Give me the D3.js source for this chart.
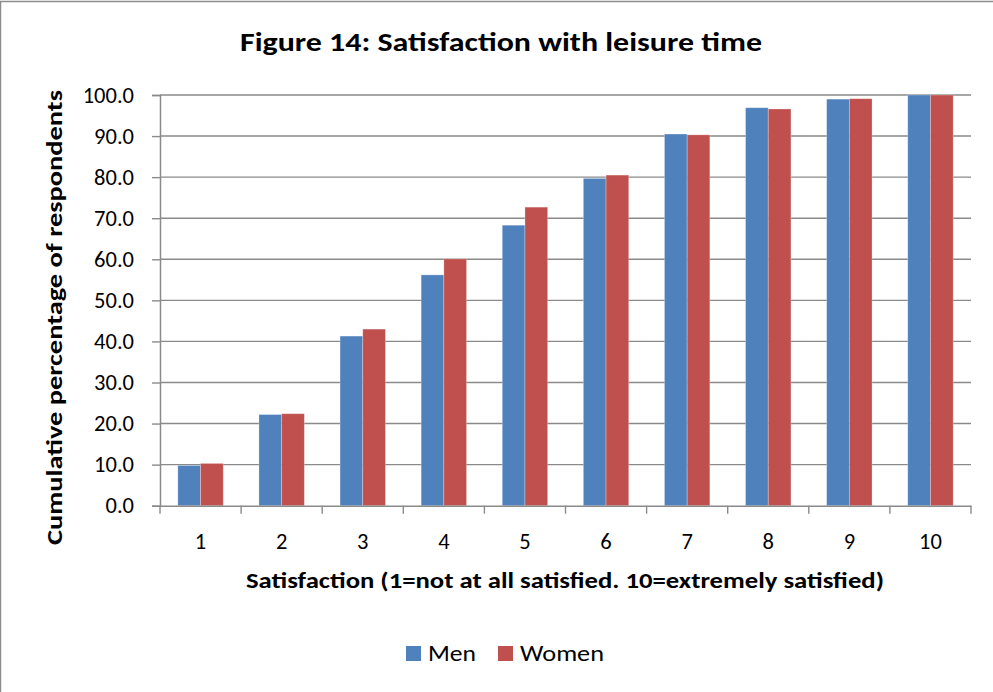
<!DOCTYPE html>
<html><head><meta charset="utf-8">
<script src="https://cdn.jsdelivr.net/npm/d3@7"></script>
<style>
html,body{margin:0;padding:0;background:#fff;}
svg{display:block;font-family:Carlito,Calibri,Lato,"Open Sans",sans-serif;}
</style></head>
<body>
<svg id="chart" width="993" height="692"></svg>
<script>
const categories = ["1","2","3","4","5","6","7","8","9","10"];
const seriesNames = ["Men","Women"];
const menValues = [9.8, 22.2, 41.3, 56.2, 68.3, 79.7, 90.5, 96.9, 99.0, 100.0];
const womenValues = [10.3, 22.4, 43.0, 60.1, 72.7, 80.5, 90.3, 96.6, 99.1, 100.0];
const yTicks = [0,10,20,30,40,50,60,70,80,90,100];
const colors = ["#4F81BD","#C0504D"];

(function(){
const svg = d3.select("#chart");
const plotLeft = 160, plotRight = 971, plotTop = 95, plotBottom = 505.7;

svg.append("rect").attr("x",0.5).attr("y",1.5).attr("width",1100).attr("height",800)
  .attr("fill","#fff").attr("stroke","#8c8c8c").attr("stroke-width",1.5);

const y = d3.scaleLinear().domain([0,100]).range([plotBottom, plotTop]);
const x0 = d3.scaleBand().domain(categories).range([plotLeft, plotRight]).padding(0);
const x1 = d3.scaleBand().domain(seriesNames).range([0, x0.bandwidth()]).paddingInner(0).paddingOuter(0.786);

// gridlines
svg.append("g").selectAll("line").data(yTicks.filter(d=>d>0)).join("line")
  .attr("x1",plotLeft).attr("x2",plotRight).attr("y1",d=>y(d)).attr("y2",d=>y(d))
  .attr("stroke","#8a8a8a").attr("stroke-width",1.4);

// bars
const data = categories.map((c,i)=>({cat:c, vals:[menValues[i], womenValues[i]]}));
const g = svg.append("g");
data.forEach(d=>{
  d.vals.forEach((v,j)=>{
    g.append("rect")
      .attr("x", x0(d.cat)+x1(seriesNames[j]))
      .attr("y", y(v))
      .attr("width", x1.bandwidth())
      .attr("height", y(0)-y(v))
      .attr("fill", colors[j])
      .attr("stroke","rgba(255,255,255,0.35)").attr("stroke-width",0.8);
  });
});

// y axis
const yAxis = d3.axisLeft(y).tickValues(yTicks).tickFormat(d3.format(".1f")).tickSize(8).tickPadding(18);
const ya = svg.append("g").attr("transform",`translate(${plotLeft},0)`).call(yAxis);
ya.select(".domain").attr("stroke","#8a8a8a").attr("stroke-width",1.5);
ya.selectAll(".tick line").attr("stroke","#8a8a8a").attr("stroke-width",1.4);
ya.selectAll(".tick text").attr("font-size",22.5).attr("fill","#000").attr("font-family","Carlito,Calibri,Lato,sans-serif");

// x axis
const xAxis = d3.axisBottom(x0).tickSize(0).tickPadding(27);
const xa = svg.append("g").attr("transform",`translate(0,${plotBottom})`).call(xAxis);
xa.select(".domain").attr("stroke","#8a8a8a").attr("stroke-width",1.5);
xa.selectAll(".tick text").attr("font-size",22.5).attr("fill","#000").attr("font-family","Carlito,Calibri,Lato,sans-serif");
const bounds = categories.map(c=>x0(c)).concat([x0(categories[categories.length-1])+x0.bandwidth()]);
xa.append("g").selectAll("line").data(bounds).join("line")
  .attr("x1",d=>d).attr("x2",d=>d).attr("y1",0).attr("y2",8)
  .attr("stroke","#8a8a8a").attr("stroke-width",1.4);

// titles
svg.append("text").attr("x",501).attr("y",51).attr("text-anchor","middle")
  .attr("font-size",27).attr("font-weight","bold")
  .attr("textLength",522).attr("lengthAdjust","spacingAndGlyphs")
  .text("Figure 14: Satisfaction with leisure time");

svg.append("text").attr("x",565).attr("y",588).attr("text-anchor","middle")
  .attr("font-size",23).attr("font-weight","bold")
  .attr("textLength",638).attr("lengthAdjust","spacingAndGlyphs")
  .text("Satisfaction (1=not at all satisfied. 10=extremely satisfied)");

svg.append("text").attr("transform","translate(62,317.5) rotate(-90)").attr("text-anchor","middle")
  .attr("font-size",23).attr("font-weight","bold")
  .attr("textLength",455).attr("lengthAdjust","spacingAndGlyphs")
  .text("Cumulative percentage of respondents");

// legend
const legendX = [406, 498];
const legendTextW = [48, 84];
seriesNames.forEach((s,j)=>{
  svg.append("rect").attr("x",legendX[j]).attr("y",646).attr("width",15).attr("height",15).attr("fill",colors[j]);
  svg.append("text").attr("x",legendX[j]+22).attr("y",660.5).attr("font-size",23)
    .attr("textLength",legendTextW[j]).attr("lengthAdjust","spacingAndGlyphs").text(s);
});
})();
</script>
</body></html>
